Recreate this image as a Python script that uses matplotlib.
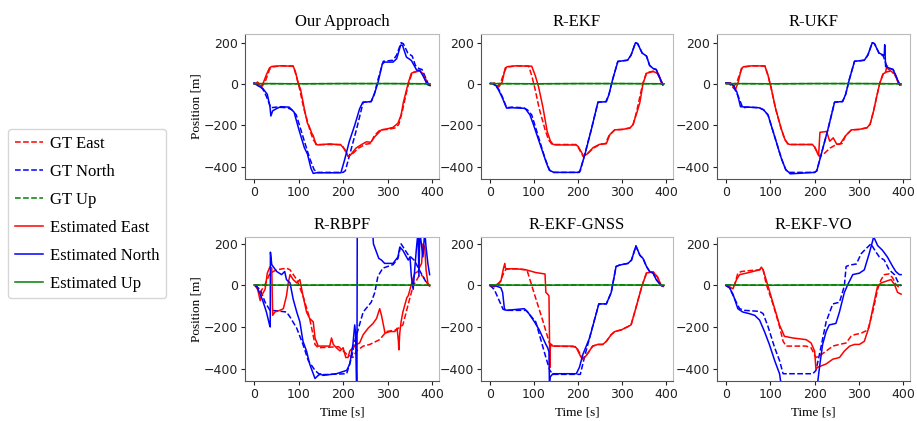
import matplotlib
matplotlib.use("Agg")
import matplotlib.pyplot as plt
from matplotlib.lines import Line2D

# ---------------- data ----------------
titles = ["Our Approach", "R-EKF", "R-UKF", "R-RBPF", "R-EKF-GNSS", "R-EKF-VO"]
xticks = [0, 100, 200, 300, 400]
yticks = [-400, -200, 0, 200]

# common ground truth
gt_t_e = [0, 10, 18, 25, 35, 40, 60, 88, 95, 102, 112, 125, 133, 140, 145, 195, 200, 211, 220, 235, 250, 262, 270, 283, 300, 318, 325, 333, 340, 347, 355, 370, 380, 390, 395]
gt_e = [0, 5, -12, 10, 70, 82, 88, 87, 40, -20, -120, -220, -270, -290, -293, -293, -305, -350, -340, -310, -292, -288, -250, -222, -220, -212, -195, -130, -60, 5, 55, 62, 50, 0, -5]
gt_t_n = [0, 8, 20, 28, 38, 50, 75, 85, 95, 105, 115, 125, 135, 142, 200, 205, 215, 230, 245, 263, 270, 278, 290, 300, 312, 320, 330, 335, 345, 355, 362, 370, 377, 385, 392]
gt_n = [5, 0, -25, -60, -115, -112, -115, -125, -150, -220, -290, -360, -415, -428, -428, -420, -340, -220, -88, -85, -50, 20, 110, 112, 115, 140, 200, 195, 150, 135, 90, 75, 70, 30, -5]
gt_t_u = [0, 100, 200, 300, 395]
gt_u = [2, 1, 2, 2, 1]

# Our Approach
oa_t_e = [0, 5, 8, 12, 16, 20, 28, 35, 40, 60, 88, 93, 98, 105, 113, 120, 124, 130, 133, 139, 145, 170, 195, 205, 211, 216, 229, 240, 252, 262, 271, 286, 297, 312, 323, 330, 335, 346, 353, 365, 372, 380, 387, 395]
oa_e = [0, 2, 10, -5, -8, 0, 45, 78, 85, 88, 86, 60, 15, -30, -120, -190, -205, -240, -250, -293, -295, -290, -295, -320, -350, -345, -310, -295, -280, -282, -255, -222, -218, -210, -190, -150, -90, 5, 52, 62, 62, 44, 5, -5]
oa_t_n = [0, 10, 15, 20, 30, 36, 38, 42, 50, 60, 79, 90, 101, 113, 120, 128, 133, 140, 170, 195, 203, 214, 226, 237, 244, 263, 271, 278, 288, 293, 312, 320, 329, 333, 342, 353, 365, 372, 380, 389, 395]
oa_n = [5, -10, -15, -22, -50, -110, -155, -130, -120, -110, -112, -136, -222, -308, -339, -409, -433, -430, -430, -430, -370, -277, -200, -120, -89, -85, -42, 5, 98, 106, 106, 122, 188, 188, 130, 114, 67, 67, 36, -3, -8]

# R-EKF
ekf_t_e = [10, 15, 20, 28, 35, 40, 60, 95, 103, 110, 120, 130, 137, 143, 150, 195, 200, 212, 220, 234, 249, 264, 272, 283, 300, 317, 324, 333, 340, 347, 355, 370, 381, 392]
ekf_e = [0, -10, -15, 10, 78, 84, 88, 86, 40, -10, -110, -230, -275, -292, -295, -295, -302, -347, -340, -308, -292, -289, -245, -222, -220, -214, -198, -140, -89, 2, 52, 60, 52, -3]
ekf_t_n = [8, 15, 20, 28, 38, 50, 80, 91, 99, 114, 129, 135, 145, 203, 215, 230, 245, 264, 270, 278, 290, 300, 312, 320, 330, 335, 345, 355, 362, 370, 377, 385, 392]
ekf_n = [0, -10, -30, -65, -117, -115, -118, -150, -198, -293, -387, -418, -428, -428, -345, -220, -88, -86, -50, 20, 108, 112, 115, 140, 200, 195, 150, 135, 90, 75, 70, 30, -5]

# R-UKF
ukf_t_e = [0, 10, 18, 22, 28, 35, 40, 60, 88, 95, 102, 112, 125, 133, 140, 145, 195, 200, 209, 212, 227, 234, 242, 250, 257, 270, 283, 300, 318, 325, 333, 340, 347, 355, 360, 362, 370, 380, 390, 395]
ukf_e = [5, 5, -15, -25, 10, 75, 84, 88, 87, 42, -18, -118, -218, -268, -290, -293, -293, -305, -347, -234, -230, -277, -261, -292, -292, -250, -222, -220, -212, -195, -130, -60, 5, 50, 55, 80, 65, 50, 0, -5]
ukf_t_n = [0, 10, 17, 25, 33, 50, 75, 85, 95, 105, 115, 125, 135, 142, 145, 200, 205, 215, 230, 245, 263, 270, 278, 290, 300, 312, 320, 330, 335, 345, 355, 357, 358, 360, 370, 377, 385, 392]
ukf_n = [5, 3, -6, -40, -110, -112, -115, -125, -150, -220, -290, -360, -415, -428, -435, -428, -420, -340, -220, -88, -85, -50, 20, 110, 112, 115, 140, 200, 195, 150, 140, 140, 190, 85, 75, 70, 30, -5]

# R-RBPF
rbpf_gt_t_e = [2, 14, 25, 36, 51, 73, 81, 96, 110, 125, 137, 144, 190, 208, 222, 230, 245, 260, 282, 297, 319, 334, 349, 357, 372, 379, 390, 394]
rbpf_gt_e = [0, -34, 5, 59, 75, 83, 75, 28, -50, -159, -284, -300, -295, -331, -347, -315, -292, -284, -261, -222, -214, -190, -66, -3, 52, 44, 5, -3]
rbpf_gt_t_n = [2, 14, 25, 36, 51, 73, 81, 96, 110, 122, 137, 148, 208, 219, 226, 245, 263, 271, 278, 289, 312, 323, 330, 345, 360, 372, 385, 394]
rbpf_gt_n = [0, -19, -81, -120, -122, -128, -152, -206, -284, -362, -409, -430, -425, -347, -269, -128, -81, -34, 44, 83, 100, 130, 200, 150, 120, 70, 20, -3]
rbpf_t_e = [6, 10, 14, 17, 25, 30, 36, 40, 42, 47, 58, 66, 73, 77, 81, 88, 96, 103, 110, 118, 125, 133, 137, 144, 155, 170, 174, 178, 185, 193, 200, 206, 211, 215, 222, 230, 237, 245, 256, 267, 275, 282, 286, 294, 305, 316, 321, 324, 325, 327, 330, 334, 343, 346, 350, 356, 361, 368, 372, 376, 379, 383, 386, 390, 394]
rbpf_e = [0, -34, -73, -50, -19, 59, 90, 83, -144, -128, -120, -112, -50, 12, 52, 28, 12, 28, -50, -128, -159, -175, -253, -292, -292, -292, -253, -284, -300, -315, -300, -347, -347, -315, -300, -284, -277, -237, -206, -183, -159, -112, -144, -230, -222, -222, -206, -269, -310, -230, -175, -128, -58, -50, -19, 28, 59, 67, 90, 106, 200, 184, 75, 12, -3]
rbpf_t_n = [6, 14, 21, 28, 35, 36.5, 37, 40, 45, 51, 62, 69, 73, 81, 88, 96, 103, 110, 118, 125, 133, 137, 148, 155, 185, 208, 215, 222, 226, 228, 230, 231, 232, 262, 268, 280, 286, 293, 312, 323, 327, 334, 338, 346, 350, 353, 357, 364, 368, 370, 372, 379, 383, 386, 390, 394]
rbpf_n = [-3, -42, -81, -128, -190, -200, 160, 100, 85, 67, 52, 67, 28, 12, -66, -128, -175, -269, -316, -378, -425, -448, -425, -433, -425, -409, -378, -284, -190, -230, -480, -480, 600, 400, 200, 130, 122, 106, 106, 137, 184, 169, 153, 122, 137, 44, -19, 169, 260, 44, 260, 137, 260, 184, 106, 52]

# R-EKF-GNSS
gnss_gt_t_e = [0, 10, 22, 33, 37, 60, 84, 100, 120, 135, 143, 196, 207, 211, 218, 233, 245, 256, 264, 275, 283, 298, 313, 320, 332, 345, 355, 370, 380, 388, 393]
gnss_gt_e = [0, -6, 12, 67, 78, 80, 75, -35, -170, -277, -292, -295, -340, -350, -339, -292, -284, -284, -269, -237, -222, -214, -198, -190, -100, 0, 60, 65, 40, 0, -5]
gnss_gt_t_n = [0, 10, 30, 37, 82, 104, 127, 136, 143, 205, 215, 230, 247, 264, 275, 286, 294, 313, 321, 331, 340, 347, 355, 362, 370, 377, 388]
gnss_gt_n = [0, -19, -115, -120, -120, -175, -347, -409, -428, -428, -340, -220, -89, -89, -34, 91, 98, 106, 122, 190, 145, 130, 91, 67, 59, 28, 0]
gnss_t_e = [0, 10, 25, 31, 34, 35, 37, 60, 82, 104, 125, 127, 131, 134, 136, 137, 139, 143, 188, 196, 207, 211, 218, 233, 245, 256, 264, 275, 283, 298, 313, 320, 332, 345, 355, 370, 380, 388, 393]
gnss_e = [0, -6, 20, 83, 106, 85, 80, 80, 75, 62, 55, -34, -42, -50, -395, -300, -284, -292, -292, -300, -347, -355, -339, -292, -284, -284, -269, -237, -222, -214, -198, -190, -100, 0, 60, 65, 40, 0, -5]
gnss_t_n = [0, 14, 25, 29, 33, 37, 78, 86, 101, 112, 127, 131, 134, 135, 137, 143, 196, 203, 211, 226, 247, 264, 275, 286, 294, 313, 321, 331, 340, 347, 355, 362, 370, 377, 388, 392]
gnss_n = [0, -3, -11, -34, -112, -120, -112, -128, -175, -214, -284, -300, -320, -470, -440, -425, -425, -394, -331, -253, -89, -89, -34, 91, 98, 106, 122, 190, 145, 130, 91, 67, 59, 28, 0, -3]

# R-EKF-VO
vo_gt_t_e = [0, 12, 20, 27, 35, 57, 76, 80, 84, 91, 106, 121, 129, 136, 181, 192, 203, 211, 226, 241, 256, 271, 282, 290, 305, 320, 331, 342, 350, 357, 368, 376, 383, 391]
vo_gt_e = [0, -11, 5, 59, 67, 72, 75, 83, 75, 5, -89, -198, -269, -292, -292, -300, -347, -339, -316, -292, -284, -277, -245, -237, -230, -214, -128, -19, 28, 52, 55, 36, 5, -11]
vo_gt_t_n = [0, 8, 20, 31, 42, 76, 84, 95, 110, 121, 129, 196, 203, 211, 226, 241, 256, 267, 271, 279, 294, 305, 316, 327, 338, 346, 357, 368, 380, 387, 395]
vo_gt_n = [0, -11, -66, -112, -120, -125, -136, -198, -300, -362, -425, -425, -409, -331, -175, -89, -81, -3, 91, 98, 103, 153, 177, 200, 161, 137, 122, 75, 52, 20, -3]
vo_t_e = [0, 16, 24, 31, 46, 61, 76, 80, 84, 95, 110, 121, 132, 151, 181, 192, 200, 203, 207, 226, 241, 256, 267, 279, 290, 301, 312, 323, 331, 342, 350, 361, 372, 380, 387, 395]
vo_e = [0, -16, 28, 52, 59, 67, 75, 88, 75, -3, -112, -191, -245, -253, -261, -277, -316, -402, -394, -378, -355, -347, -316, -292, -284, -284, -269, -198, -112, -3, 12, 20, 28, 5, -34, -42]
vo_t_n = [0, 8, 16, 27, 38, 53, 65, 76, 87, 98, 110, 121, 126, 205, 211, 218, 226, 233, 248, 256, 267, 275, 286, 301, 312, 323, 331, 333, 342, 353, 364, 376, 383, 391, 395]
vo_n = [0, -11, -42, -112, -128, -136, -144, -167, -222, -284, -362, -425, -500, -500, -394, -284, -222, -190, -183, -128, -34, 5, 52, 59, 75, 153, 216, 235, 192, 169, 137, 91, 67, 52, 52]

panels = [
    ((gt_t_e, gt_e), (gt_t_n, gt_n), (oa_t_e, oa_e), (oa_t_n, oa_n)),
    ((gt_t_e, gt_e), (gt_t_n, gt_n), (ekf_t_e, ekf_e), (ekf_t_n, ekf_n)),
    ((gt_t_e, gt_e), (gt_t_n, gt_n), (ukf_t_e, ukf_e), (ukf_t_n, ukf_n)),
    ((rbpf_gt_t_e, rbpf_gt_e), (rbpf_gt_t_n, rbpf_gt_n), (rbpf_t_e, rbpf_e), (rbpf_t_n, rbpf_n)),
    ((gnss_gt_t_e, gnss_gt_e), (gnss_gt_t_n, gnss_gt_n), (gnss_t_e, gnss_e), (gnss_t_n, gnss_n)),
    ((vo_gt_t_e, vo_gt_e), (vo_gt_t_n, vo_gt_n), (vo_t_e, vo_e), (vo_t_n, vo_n)),
]

legend_labels = ["GT East", "GT North", "GT Up", "Estimated East", "Estimated North", "Estimated Up"]

# ---------------- figure ----------------
SERIF = ["Liberation Serif", "DejaVu Serif"]
RED, BLUE, GREEN = "#ff0000", "#0000ff", "#008000"
LW = 1.1

fig = plt.figure(figsize=(9.17, 4.21), dpi=100)
W, H = 917, 421
lefts = [245, 481, 717]
widths = [194, 192, 193]
tops = [34, 237]
heights = [145, 144]
ylims = [(-460, 242), (-460, 233)]

for i, (gte, gtn, este, estn) in enumerate(panels):
    r, c = divmod(i, 3)
    ax = fig.add_axes([lefts[c] / W, 1 - (tops[r] + heights[r]) / H, widths[c] / W, heights[r] / H])
    ax.plot(gte[0], gte[1], "--", color=RED, lw=LW)
    ax.plot(gtn[0], gtn[1], "--", color=BLUE, lw=LW)
    ax.plot(gt_t_u, gt_u, "--", color=GREEN, lw=LW)
    ax.plot(este[0], este[1], "-", color=RED, lw=LW)
    ax.plot(estn[0], estn[1], "-", color=BLUE, lw=LW)
    ax.plot(gt_t_u, gt_u, "-", color=GREEN, lw=LW)
    ax.set_xlim(-20, 415)
    ax.set_ylim(*ylims[r])
    ax.set_xticks(xticks)
    ax.set_yticks(yticks)
    ax.tick_params(labelsize=9, colors="#222222", length=3, width=0.8, pad=2)
    for s in ["left", "bottom"]:
        ax.spines[s].set_color("#555555")
    for s in ["top", "right"]:
        ax.spines[s].set_color("#bbbbbb")
    ax.set_title(titles[i], family=SERIF, fontsize=12, pad=6)
    if c == 0:
        ax.set_ylabel("Position [m]", family=SERIF, fontsize=9.5, labelpad=1)
    if r == 1:
        ax.set_xlabel("Time [s]", family=SERIF, fontsize=9.5, labelpad=4)

handles = [
    Line2D([], [], ls="--", color=RED, lw=LW),
    Line2D([], [], ls="--", color=BLUE, lw=LW),
    Line2D([], [], ls="--", color=GREEN, lw=LW),
    Line2D([], [], ls="-", color=RED, lw=LW),
    Line2D([], [], ls="-", color=BLUE, lw=LW),
    Line2D([], [], ls="-", color=GREEN, lw=LW),
]
fig.legend(handles, legend_labels, loc="upper left", bbox_to_anchor=(8 / W, 1 - 129 / H),
           borderaxespad=0, prop={"family": SERIF, "size": 12}, handlelength=1.7,
           handletextpad=0.4, labelspacing=0.72, frameon=True, edgecolor="#cccccc",
           fancybox=True)

fig.savefig("out.png", dpi=100)
